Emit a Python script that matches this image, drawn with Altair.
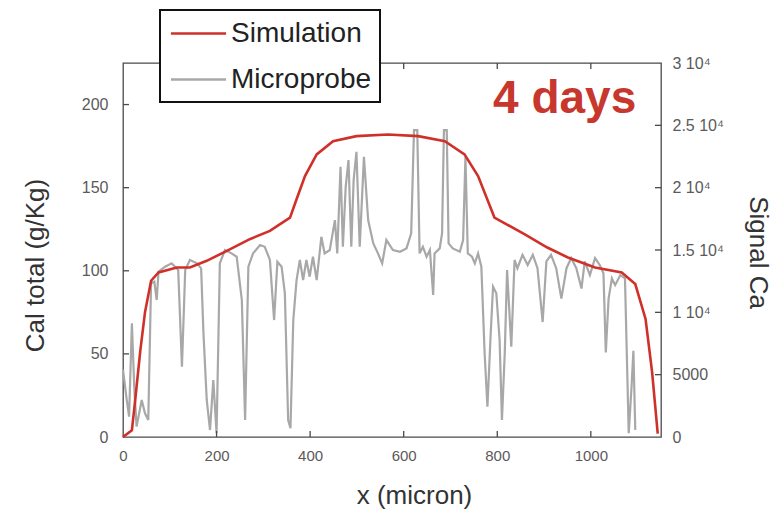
import altair as alt
import pandas as pd

# ---------------- data ----------------
sim_x = [0, 2, 19, 26, 37, 47, 60, 76, 115, 143, 179, 222, 271, 314, 357, 371, 389, 414,
         449, 499, 566, 631, 688, 730, 759, 794, 858, 907, 951, 1009, 1066, 1095, 1117, 1131, 1143]
sim_y = [0, 0.5, 4, 22, 52, 75, 94, 99, 102, 102, 106, 112, 119, 124, 132, 143, 157, 170,
         178, 181, 182, 181, 178, 170, 157, 132, 122, 114, 108, 102, 99, 92, 71, 39, 2]

probe_x = [0, 8, 13, 19, 24, 29, 40, 47, 54, 60, 67, 72, 76, 90, 104, 118, 126, 133, 143, 158,
           167, 172, 179, 186, 193, 200, 207, 218, 232, 243, 254, 261, 268, 278, 293, 303, 314,
           323, 330, 339, 346, 353, 358, 364, 371, 378, 385, 392, 399, 406, 414, 424, 431, 442,
           453, 458, 465, 470, 476, 482, 488, 493, 499, 506, 515, 524, 535, 545, 554, 563, 577,
           592, 606, 616, 622, 629, 634, 641, 649, 656, 663, 666, 677, 682, 686, 692, 696, 705,
           720, 727, 732, 737, 746, 752, 759, 766, 773, 779, 786, 791, 798, 805, 810, 816, 821,
           830, 837, 843, 854, 865, 876, 886, 897, 905, 915, 926, 937, 948, 958, 969, 980, 987,
           998, 1009, 1019, 1027, 1032, 1038, 1045, 1052, 1063, 1073, 1078, 1081, 1087, 1091, 1095]
probe_s = [5400, 2970, 1630, 9120, 4040, 830, 2970, 1900, 1360, 12330, 12460, 10990, 13260, 13660,
           13930, 13390, 5640, 13390, 14200, 13930, 13530, 8320, 2970, 560, 4570, 300, 13930, 15000,
           14730, 14460, 10990, 1360, 13660, 14730, 15400, 15260, 14200, 9380, 14060, 13660, 11520,
           1360, 700, 9380, 12590, 14200, 12590, 14200, 12860, 14460, 12590, 16060, 14730, 15000,
           17400, 14730, 21680, 15260, 20070, 22210, 15260, 20610, 22880, 15260, 22480, 17400, 15530,
           14730, 13930, 15800, 15000, 14860, 15130, 16340, 24620, 24620, 14730, 15260, 14460, 15000,
           11390, 14730, 15130, 16340, 24620, 24620, 15530, 15130, 14860, 15800, 22480, 14730, 14460,
           13930, 14730, 13660, 6710, 2430, 8320, 12050, 11520, 7780, 1360, 6710, 13390, 7240, 14200,
           13540, 14610, 13800, 14610, 13540, 9220, 14080, 14610, 13540, 11100, 13540, 14350, 13540,
           11910, 14080, 12990, 14350, 13800, 13130, 6790, 11100, 12720, 12180, 12990, 12720, 5000,
           300, 4000, 6920, 570]

x_ticks = [0, 200, 400, 600, 800, 1000]
left_ticks = [0, 50, 100, 150, 200]
right_ticks = [0, 5000, 10000, 15000, 20000, 25000, 30000]
right_labels = ["0", "5000", "1 10⁴", "1.5 10⁴", "2 10⁴", "2.5 10⁴", "3 10⁴"]

series = ["Simulation", "Microprobe"]
colors = ["#d0302a", "#a8a8a8"]

annot_text = ["4 days"]
annot_x = [944]
annot_y = [195]

# ---------------- tables ----------------
sim_df = pd.DataFrame({"x": sim_x, "y": sim_y, "series": series[0]})
probe_df = pd.DataFrame({"x": probe_x, "s": probe_s, "series": series[1]})
xt_df = pd.DataFrame({"x": x_ticks[1:]})
lt_df = pd.DataFrame({"v": left_ticks[1:]})
rt_df = pd.DataFrame({"v": right_ticks[1:-1]})
an_df = pd.DataFrame({"t": annot_text, "x": annot_x, "y": annot_y})

FONT = "Liberation Sans"
AXC = "#4a4a4a"
LABC = "#5a5a5a"
W, H = 538, 374

xscale = alt.Scale(domain=[0, 1150], nice=False, zero=False)
lscale = alt.Scale(domain=[0, 225], nice=False)
rscale = alt.Scale(domain=[0, 30000], nice=False)

expr = "'" + right_labels[-1] + "'"
for v, lab in reversed(list(zip(right_ticks[:-1], right_labels[:-1]))):
    expr = f"datum.value == {v} ? '{lab}' : ({expr})"

x_axis = alt.Axis(orient="bottom", values=x_ticks, title="x (micron)", labelExpr="'' + datum.value",
                  domain=False, ticks=False, labelPadding=11, labelFontSize=15, labelColor=LABC,
                  labelFont=FONT, titleFont=FONT, titleFontSize=26, titleFontWeight="normal",
                  titleColor="#333333", titleX=291, titleY=58, titleBaseline="middle",
                  titleAlign="center", grid=False, labelFlush=False)
l_axis = alt.Axis(orient="left", values=left_ticks, title="Cal total (g/Kg)", domain=False,
                  ticks=False, labelPadding=15, labelFontSize=16, labelColor=LABC,
                  labelFont=FONT, titleFont=FONT, titleFontSize=26, titleFontWeight="normal",
                  titleColor="#333333", titleAngle=270, titleX=-88, titleY=202,
                  titleBaseline="middle", titleAlign="center", grid=False)
r_axis = alt.Axis(orient="right", values=right_ticks, title="Signal Ca", domain=False,
                  ticks=False, labelPadding=11, labelFontSize=16, labelColor=LABC,
                  labelFont=FONT, labelExpr=expr, titleFont=FONT, titleFontSize=26,
                  titleFontWeight="normal", titleColor="#333333", titleAngle=90, titleX=96,
                  titleY=189, titleBaseline="middle", titleAlign="center", grid=False)

X = alt.X("x:Q", scale=xscale, axis=x_axis)

color = alt.Color("series:N", scale=alt.Scale(domain=series, range=colors),
                  legend=alt.Legend(title=None, orient="none", legendX=37, legendY=-53,
                                    direction="vertical", fillColor="white", strokeColor="#111111",
                                    padding=8, labelFont=FONT, labelFontSize=28,
                                    labelColor="#222222", symbolType="M-2,0H2", symbolSize=760,
                                    symbolStrokeWidth=2.5, symbolOffset=15, labelOffset=17,
                                    rowPadding=16))

probe = alt.Chart(probe_df).mark_line(strokeWidth=2.2).encode(
    x=X, y=alt.Y("s:Q", scale=rscale, axis=r_axis), color=color)
sim = alt.Chart(sim_df).mark_line(strokeWidth=2.6).encode(
    x=X, y=alt.Y("y:Q", scale=lscale, axis=l_axis), color=color)

tick_style = dict(color=AXC, strokeWidth=1.3)
bottom_ticks = alt.Chart(xt_df).mark_rule(**tick_style).encode(
    x=X, y=alt.value(H), y2=alt.value(H - 6))
top_ticks = alt.Chart(xt_df).mark_rule(**tick_style).encode(
    x=X, y=alt.value(0), y2=alt.value(6))
left_tk = alt.Chart(lt_df).mark_rule(**tick_style).encode(
    y=alt.Y("v:Q", scale=lscale, axis=None), x=alt.value(0), x2=alt.value(6))
right_tk = alt.Chart(rt_df).mark_rule(**tick_style).encode(
    y=alt.Y("v:Q", scale=rscale, axis=None), x=alt.value(W), x2=alt.value(W - 6))

annot = alt.Chart(an_df).mark_text(font=FONT, fontSize=46, fontWeight="bold", color="#c8372d",
                                   align="center", baseline="alphabetic").encode(
    x=X, y=alt.Y("y:Q", scale=lscale, axis=None), text="t:N")

chart = alt.layer(probe, sim, left_tk, right_tk, bottom_ticks, top_ticks, annot).resolve_scale(
    y="independent").properties(
    width=W, height=H,
    padding={"left": 123, "top": 63, "right": 117, "bottom": 76},
    autosize=alt.AutoSizeParams(type="none"),
    background="white",
).configure_view(stroke=AXC, strokeWidth=1.3)

try:
    styled = chart.configure_legend(strokeWidth=2)
    styled.to_dict()
    chart = styled
except Exception:
    pass

chart.save("out.html", embed_options={"renderer": "svg", "actions": False})
